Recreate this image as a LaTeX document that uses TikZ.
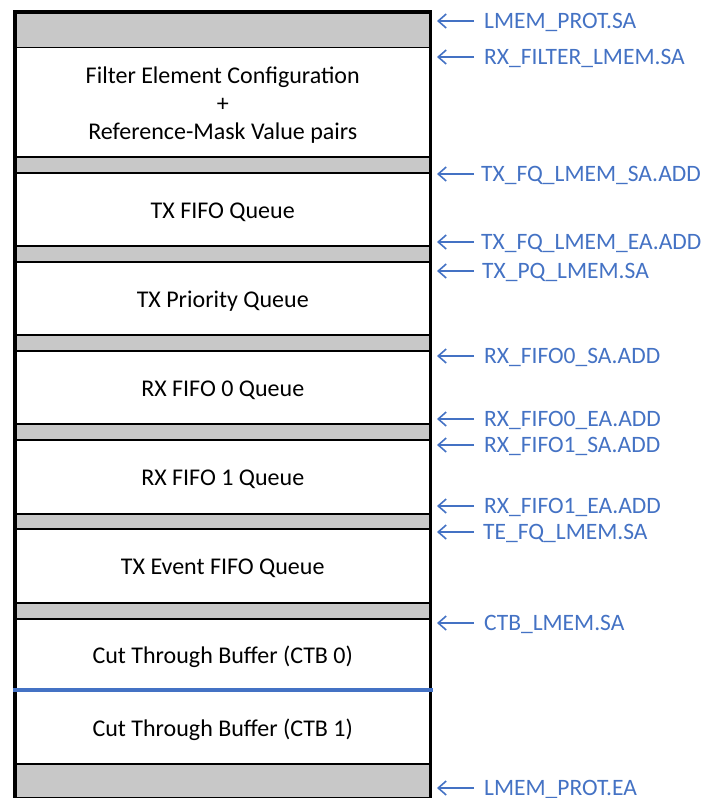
\documentclass[tikz,border=0pt]{standalone}
\usepackage{fontspec}
\setmainfont{Carlito}
\usetikzlibrary{arrows.meta}
\definecolor{lblue}{HTML}{4472C4}
\definecolor{bandgray}{HTML}{C8C8C8}
\tikzset{
  px/.style={x=1bp,y=-1bp},
  band/.style={draw=black, line width=1.5bp, fill=white, minimum width=414bp,
    inner sep=0pt, anchor=north west, text height=20bp, text depth=2bp,
    font=\fontsize{24bp}{28bp}\selectfont, align=center},
  gap/.style={band, fill=bandgray},
  addr/.style={anchor=west, text=lblue, inner xsep=10bp, inner ysep=0pt,
    text height=15bp, text depth=0pt, font=\fontsize{23.5bp}{28bp}\selectfont},
  ptr/.style={draw=lblue, line width=1.6bp, -{Straight Barb[length=8bp,width=14bp,line width=1.6bp]}},
}
\begin{document}
\begin{tikzpicture}[px]
\useasboundingbox (0,0) rectangle (704,798);

% memory layout, top to bottom
\node[gap,  minimum height=35bp]  (g0)   at (15,12)  {};
\node[band, minimum height=109bp, text height=76bp] (filt) at (15,47)
  {Filter Element Configuration\\+\\Reference-Mask Value pairs};
\node[gap,  minimum height=16bp]  (g1)   at (15,156) {};
\node[band, minimum height=73bp]  (txf)  at (15,172) {TX FIFO Queue};
\node[gap,  minimum height=16bp]  (g2)   at (15,245) {};
\node[band, minimum height=73bp]  (txp)  at (15,261) {TX Priority Queue};
\node[gap,  minimum height=16bp]  (g3)   at (15,334) {};
\node[band, minimum height=73bp]  (rx0)  at (15,350) {RX FIFO 0 Queue};
\node[gap,  minimum height=16bp]  (g4)   at (15,423) {};
\node[band, minimum height=74bp]  (rx1)  at (15,439) {RX FIFO 1 Queue};
\node[gap,  minimum height=15bp]  (g5)   at (15,513) {};
\node[band, minimum height=74bp]  (tev)  at (15,528) {TX Event FIFO Queue};
\node[gap,  minimum height=16bp]  (g6)   at (15,602) {};
\node[band, minimum height=72bp]  (ctb0) at (15,618) {Cut Through Buffer (CTB 0)};
\node[band, minimum height=73bp]  (ctb1) at (15,690) {Cut Through Buffer (CTB 1)};
\node[gap,  minimum height=34bp]  (g7)   at (15,763) {};

% outer frame and CTB split
\draw[line width=3.5bp] (g0.north west) rectangle (g7.south east);
\draw[lblue, line width=4.5bp] ([xshift=-2bp]ctb1.north west) -- ([xshift=2bp]ctb1.north east);

% address pointers: name / y / text start / label
\foreach \n/\y/\s/\t in {a1/21/10/LMEM\_PROT.SA, a2/57/10/RX\_FILTER\_LMEM.SA,
    a3/174/7/TX\_FQ\_LMEM\_SA.ADD, a4/242/7/TX\_FQ\_LMEM\_EA.ADD, a5/271/8/TX\_PQ\_LMEM.SA,
    a6/356/10/RX\_FIFO0\_SA.ADD, a7/419/10/RX\_FIFO0\_EA.ADD, a8/445/10/RX\_FIFO1\_SA.ADD,
    a9/506/10/RX\_FIFO1\_EA.ADD, a10/532/9/TE\_FQ\_LMEM.SA, a11/623/10/CTB\_LMEM.SA,
    a12/788/10/LMEM\_PROT.EA} {
  \node[addr, inner xsep=\s bp] (\n) at (474,\y) {\t};
  \coordinate (\n t) at (437,\y);
  \draw[ptr] (\n.west) -- (\n t);
}
\end{tikzpicture}
\end{document}
